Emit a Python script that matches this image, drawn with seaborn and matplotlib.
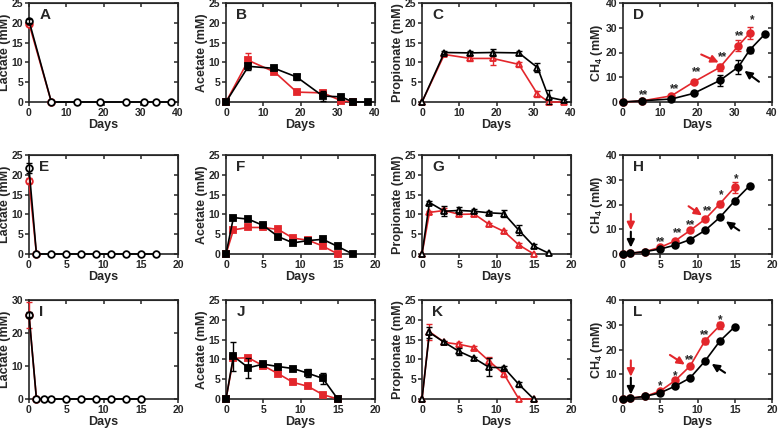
import numpy as np
import matplotlib.pyplot as plt
import seaborn as sns

sns.set_style("ticks")
plt.rcParams["font.family"] = ["Liberation Sans", "DejaVu Sans"]
plt.rcParams["font.weight"] = "bold"
plt.rcParams["axes.labelweight"] = "bold"
plt.rcParams["mathtext.fontset"] = "custom"
plt.rcParams["mathtext.rm"] = "Liberation Sans:bold"
plt.rcParams["mathtext.bf"] = "Liberation Sans:bold"

RED = "#e3262b"
BLACK = "#000000"

# ---------------- row 1 (days 0-40) ----------------
days_r1 = [0, 6, 13, 19, 26, 31, 34, 38]
days_ch4_r1 = [0, 5, 13, 19, 26, 31, 34, 38]

a_black = [20.5, 0, 0, 0, 0, 0, 0, 0]
a_black_err = [0.5, 0, 0, 0, 0, 0, 0, 0]
a_red_days = [0, 6]
a_red = [19.8, 0]
a_red_err = [0.4, 0]

b_black = [0, 9.0, 8.5, 6.3, 1.5, 1.3, 0, 0]
b_black_err = [0, 0.8, 0.4, 0.8, 1.2, 0.5, 0, 0]
b_red_days = [0, 6, 13, 19, 26, 31, 34]
b_red = [0, 10.5, 7.6, 2.5, 2.3, 0.3, 0]
b_red_err = [0, 2.0, 0.3, 0.3, 0.8, 0.3, 0]

c_black = [0, 12.5, 12.4, 12.5, 12.4, 8.7, 1.2, 0.4]
c_black_err = [0, 0.4, 0.5, 0.9, 0.6, 1.2, 1.8, 0.4]
c_red = [0, 12.0, 11.0, 11.0, 9.5, 2.0, 0, 0]
c_red_err = [0, 0.3, 0.7, 1.6, 0.7, 0.7, 0, 0]

d_black = [0, 0.5, 1.2, 3.5, 8.7, 14.2, 21.0, 27.3]
d_black_err = [0, 0.2, 0.3, 0.4, 2.2, 2.8, 1.2, 0.4]
d_red_days = [0, 5, 13, 19, 26, 31, 34]
d_red = [0, 0.4, 2.5, 8.1, 14.0, 22.8, 27.8]
d_red_err = [0, 0.2, 0.4, 0.8, 1.5, 2.2, 2.5]
d_star_x = [5.4, 13.8, 19.7, 26.8, 31.4, 34.6]
d_star_y = [4.6, 7.0, 13.7, 20.0, 28.3, 34.7]
d_star_txt = ["**", "**", "**", "**", "**", "*"]

# ---------------- row 2 (days 0-20) ----------------
days_r2 = [0, 1, 3, 5, 7, 9, 11, 13, 15, 17]

e_black = [21.7, 0, 0, 0, 0, 0, 0, 0, 0, 0]
e_black_err = [1.2, 0, 0, 0, 0, 0, 0, 0, 0, 0]
e_red_days = [0, 1]
e_red = [18.5, 0]
e_red_err = [0.6, 0]

f_black = [0, 9.2, 8.8, 7.2, 4.4, 2.8, 3.4, 3.7, 1.9, 0]
f_black_err = [0, 0.3, 0.3, 0.3, 0.3, 0.3, 0.3, 0.3, 0.3, 0]
f_red_days = [0, 1, 3, 5, 7, 9, 11, 13, 15]
f_red = [0, 6.1, 6.7, 6.7, 6.2, 4.0, 3.5, 2.0, 0]
f_red_err = [0, 0.3, 0.3, 0.3, 0.3, 0.3, 0.3, 0.3, 0]

g_black = [0, 13.0, 10.8, 11.0, 10.8, 10.4, 10.2, 6.0, 2.0, 0.2]
g_black_err = [0, 0.3, 1.2, 0.9, 0.5, 0.4, 0.9, 1.2, 0.4, 0]
g_red_days = [0, 1, 3, 5, 7, 9, 11, 13, 15]
g_red = [0, 10.5, 11.0, 10.0, 10.1, 7.5, 5.7, 2.3, 0]
g_red_err = [0, 0.4, 0.6, 0.5, 0.4, 0.4, 0.4, 0.4, 0]

h_black = [0, 0.3, 1.0, 2.0, 3.6, 5.8, 9.5, 14.8, 21.5, 27.6]
h_black_err = [0, 0, 0.2, 0.2, 0.2, 0.3, 0.3, 0.3, 0.4, 0.8]
h_red_days = [0, 1, 3, 5, 7, 9, 11, 13, 15]
h_red = [0, 0.3, 1.0, 2.7, 5.3, 9.5, 14.0, 20.3, 27.0]
h_red_err = [0, 0, 0.2, 0.3, 0.4, 0.6, 0.6, 1.2, 2.2]
h_star_x = [5.0, 7.3, 9.1, 11.4, 13.2, 15.2]
h_star_y = [6.3, 10.1, 13.3, 19.1, 25.6, 31.9]
h_star_txt = ["**", "**", "**", "**", "*", "*"]

# ---------------- row 3 (days 0-20) ----------------
i_days = [0, 1, 2, 3, 5, 7, 9, 11, 13, 15]
i_black = [25.5, 0, 0, 0, 0, 0, 0, 0, 0, 0]
i_black_err = [0.8, 0, 0, 0, 0, 0, 0, 0, 0, 0]
i_red_days = [0, 1]
i_red = [25.5, 0]
i_red_err = [4.0, 0]

days_r3 = [0, 1, 3, 5, 7, 9, 11, 13, 15]

j_black = [0, 10.8, 7.9, 8.8, 8.2, 7.7, 6.5, 5.2, 0]
j_black_err = [0, 3.7, 2.5, 0.4, 0.4, 0.4, 1.0, 1.3, 0]
j_red = [0, 10.3, 10.4, 8.4, 6.4, 4.2, 3.2, 1.1, 0]
j_red_err = [0, 0.3, 0.3, 0.3, 0.3, 0.3, 0.3, 0.3, 0]

k_black = [0, 16.8, 14.3, 12.0, 10.3, 8.0, 7.9, 3.7, 0]
k_black_err = [0, 1.5, 0.4, 1.0, 0.4, 2.3, 0.4, 0.6, 0]
k_red = [0, 17.0, 14.3, 13.8, 13.0, 9.6, 6.3, 0, 0]
k_red_err = [0, 2.0, 0.4, 0.6, 0.4, 0.9, 0.8, 0, 0]

l_black = [0, 0.3, 1.1, 2.5, 5.2, 8.5, 15.3, 23.4, 29.2]
l_black_err = [0, 0, 0.2, 0.2, 0.3, 0.3, 0.3, 0.4, 0.4]
l_red_days = [0, 1, 3, 5, 7, 9, 11, 13]
l_red = [0, 0.3, 1.1, 3.2, 7.5, 13.3, 23.5, 29.7]
l_red_err = [0, 0, 0.2, 0.3, 0.6, 0.6, 1.2, 1.5]
l_star_x = [5.0, 7.0, 8.9, 11.0, 13.1]
l_star_y = [6.7, 10.8, 17.5, 27.5, 33.6]
l_star_txt = ["*", "*", "**", "**", "*"]

lac = "Lactate (mM)"
ace = "Acetate (mM)"
pro = "Propionate (mM)"
ch4 = r"CH$_{\mathbf{4}}$ (mM)"

panels = [
    # letter, ylabel, ymax, ystep, xmax, xstep, marker, filled, black, red
    ("A", lac, 25, 5, 40, 10, "o", False, (days_r1, a_black, a_black_err), (a_red_days, a_red, a_red_err)),
    ("B", ace, 25, 5, 40, 10, "s", True, (days_r1, b_black, b_black_err), (b_red_days, b_red, b_red_err)),
    ("C", pro, 25, 5, 40, 10, "^", False, (days_r1, c_black, c_black_err), (days_r1, c_red, c_red_err)),
    ("D", ch4, 40, 10, 40, 10, "o", True, (days_ch4_r1, d_black, d_black_err), (d_red_days, d_red, d_red_err)),
    ("E", lac, 25, 5, 20, 5, "o", False, (days_r2, e_black, e_black_err), (e_red_days, e_red, e_red_err)),
    ("F", ace, 25, 5, 20, 5, "s", True, (days_r2, f_black, f_black_err), (f_red_days, f_red, f_red_err)),
    ("G", pro, 25, 5, 20, 5, "^", False, (days_r2, g_black, g_black_err), (g_red_days, g_red, g_red_err)),
    ("H", ch4, 40, 10, 20, 5, "o", True, (days_r2, h_black, h_black_err), (h_red_days, h_red, h_red_err)),
    ("I", lac, 30, 10, 20, 5, "o", False, (i_days, i_black, i_black_err), (i_red_days, i_red, i_red_err)),
    ("J", ace, 25, 5, 20, 5, "s", True, (days_r3, j_black, j_black_err), (days_r3, j_red, j_red_err)),
    ("K", pro, 25, 5, 20, 5, "^", False, (days_r3, k_black, k_black_err), (days_r3, k_red, k_red_err)),
    ("L", ch4, 40, 10, 20, 5, "o", True, (days_r3, l_black, l_black_err), (l_red_days, l_red, l_red_err)),
]

stars = {
    "D": (d_star_x, d_star_y, d_star_txt),
    "H": (h_star_x, h_star_y, h_star_txt),
    "L": (l_star_x, l_star_y, l_star_txt),
}

# arrows: (tail, head, color)
arrows = {
    "D": [((21.0, 19.2), (25.7, 16.0), RED), ((36.5, 8.2), (32.6, 12.6), BLACK)],
    "H": [((1.05, 16.2), (1.05, 9.6), RED), ((1.05, 9.0), (1.05, 2.6), BLACK),
          ((8.8, 19.3), (10.6, 15.6), RED), ((15.6, 9.5), (13.8, 13.2), BLACK)],
    "L": [((1.05, 15.6), (1.05, 9.0), RED), ((1.05, 8.6), (1.05, 1.8), BLACK),
          ((6.3, 17.8), (8.3, 13.9), RED), ((13.7, 10.6), (11.9, 14.2), BLACK)],
}


def draw_series(ax, x, y, err, color, marker, filled, z):
    face = color if filled else "white"
    sns.lineplot(x=x, y=y, ax=ax, color=color, marker=marker, markersize=4.8,
                 markerfacecolor=face, markeredgecolor=color, markeredgewidth=1.3,
                 linewidth=1.2, clip_on=False, zorder=z)
    xe = [a for a, e in zip(x, err) if e > 0]
    ye = [b for b, e in zip(y, err) if e > 0]
    ee = [e for e in err if e > 0]
    if ee:
        ax.errorbar(xe, ye, yerr=ee, fmt="none", ecolor=color, elinewidth=1.0,
                    capsize=2.4, capthick=1.0, clip_on=False, zorder=z + 0.5)


fig = plt.figure(figsize=(7.78, 4.30), dpi=100)
lefts = [29, 226, 422, 623]
tops = [3, 155, 300]
W, H = 149, 99

for n, (letter, ylab, ymax, ystep, xmax, xstep, marker, filled, blk, red) in enumerate(panels):
    r, c = divmod(n, 4)
    ax = fig.add_axes([lefts[c] / 778, 1 - (tops[r] + H) / 430, W / 778, H / 430])

    draw_series(ax, red[0], red[1], red[2], RED, marker, filled, 3)
    draw_series(ax, blk[0], blk[1], blk[2], BLACK, marker, filled, 4)

    xt = np.arange(0, xmax + 1, xstep)
    yt = np.arange(0, ymax + 1, ystep)
    ax.set_xlim(0, xmax)
    ax.set_ylim(0, ymax)
    ax.set_xticks(xt)
    ax.set_yticks(yt)
    ax.set_xlabel("Days", fontsize=9, fontweight="bold", labelpad=0.5)
    ax.set_ylabel(ylab, fontsize=9, fontweight="bold", labelpad=0.5)
    ax.tick_params(direction="out", length=3, width=1.1, labelsize=7.5, pad=1.2)
    for lab in ax.get_xticklabels() + ax.get_yticklabels():
        lab.set_fontweight("bold")
    for sp in ax.spines.values():
        sp.set_linewidth(1.2)
        sp.set_visible(True)

    # inward ticks on top and right spines
    top = ax.secondary_xaxis("top")
    top.set_xticks(xt)
    top.tick_params(direction="in", length=3, width=1.1, labeltop=False)
    right = ax.secondary_yaxis("right")
    right.set_yticks(yt)
    right.tick_params(direction="in", length=3, width=1.1, labelright=False)

    ax.text(0.07, 0.875, letter, transform=ax.transAxes, fontsize=11,
            fontweight="bold", va="center", ha="left")

    # significance stars (positions are glyph centres; asterisks sit high in the line)
    if letter in stars:
        sx, sy, st = stars[letter]
        for a, b, t in zip(sx, sy, st):
            ax.annotate(t, (a, b), xytext=(0, -3), textcoords="offset points",
                        ha="center", va="center", fontsize=8.5, fontweight="bold")

    for tail, head, col in arrows.get(letter, []):
        ax.annotate("", xy=head, xytext=tail,
                    arrowprops=dict(arrowstyle="-|>,head_length=0.45,head_width=0.22",
                                    color=col, lw=1.5, mutation_scale=10,
                                    shrinkA=0, shrinkB=0))

plt.savefig("out.png", dpi=100)
